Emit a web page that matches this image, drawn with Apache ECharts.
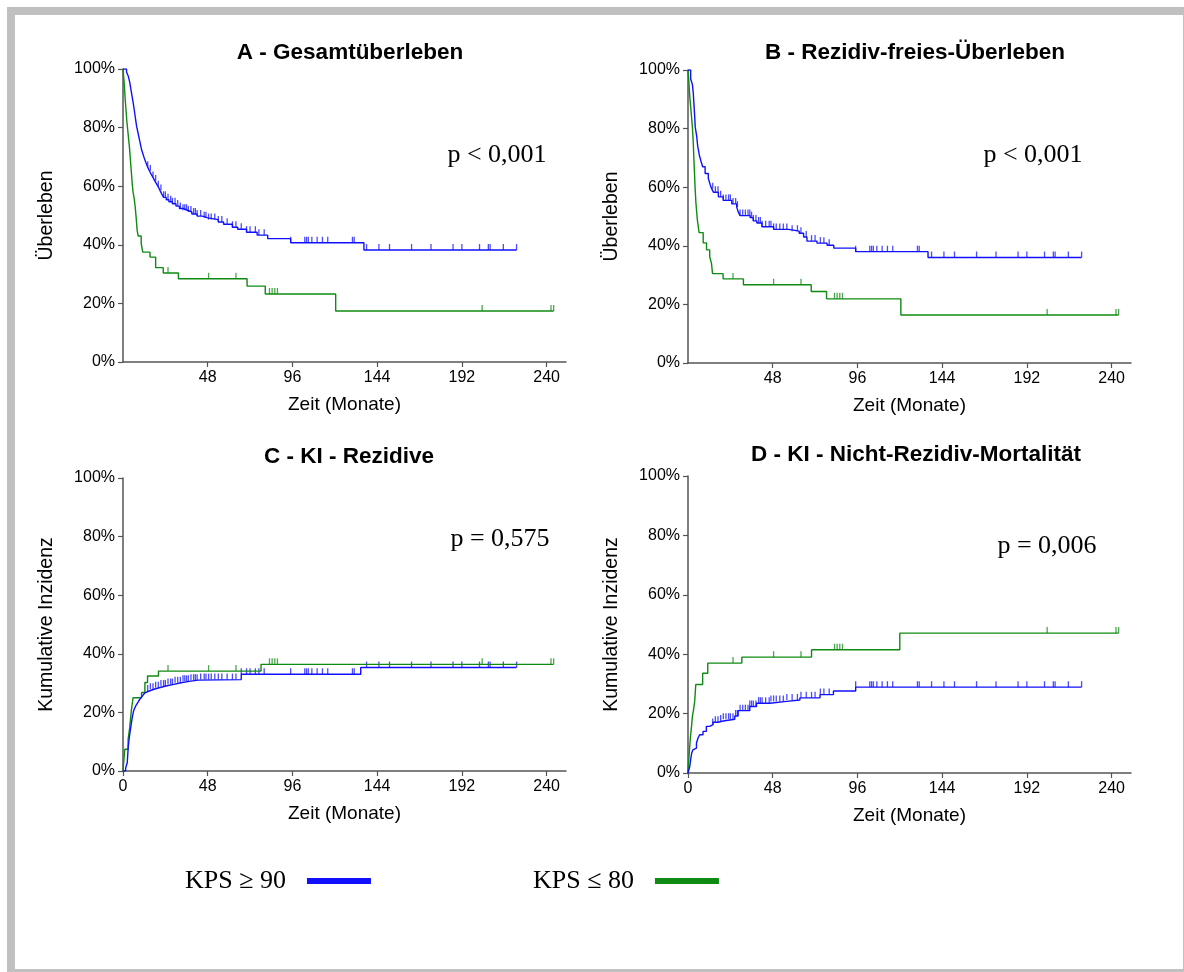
<!DOCTYPE html>
<html><head><meta charset="utf-8">
<script src="https://cdn.jsdelivr.net/npm/echarts@6/dist/echarts.min.js"></script>
<style>html,body{margin:0;padding:0;background:#fff}#c{width:1184px;height:972px}</style>
</head><body><div id="c"></div>
<script>
// ---- data ----
const seriesNames = ['KPS \u2265 90', 'KPS \u2264 80'];
const panelTitles = ['A - Gesamtüberleben', 'B - Rezidiv-freies-Überleben', 'C - KI - Rezidive', 'D - KI - Nicht-Rezidiv-Mortalität'];
const yAxisNames = ['Überleben', 'Überleben', 'Kumulative Inzidenz', 'Kumulative Inzidenz'];
const xAxisName = 'Zeit (Monate)';
const pTexts = ['p < 0,001', 'p < 0,001', 'p = 0,575', 'p = 0,006'];
const xTicksAB = [48, 96, 144, 192, 240];
const xTicksCD = [0, 48, 96, 144, 192, 240];
const yTicks = [0, 20, 40, 60, 80, 100];

// step curves: [month, percent] (value holds from that month on)
const osBlue = [[0,100],[2,99],[3,97.5],[3.8,95.5],[4.5,93],[5.2,90.5],[5.9,88],[6.5,85.5],[7.1,83],[7.7,80.5],[8.4,78.5],[9.1,76.5],[9.8,74.5],[10.5,72.5],[11.3,71],[12.1,69.5],[13,68],[14,66.5],[15,65.2],[16,64],[17,63],[18,61.8],[19,60.8],[20,59.8],[21,58.5],[22,57.3],[23,56.2],[24.5,55.4],[26,54.7],[28,54],[30,53.2],[32,52.4],[34,51.8],[36.5,51.2],[39,50.5],[42,49.8],[45,49.2],[48,48.6],[54,47.8],[57,47],[62,46],[65,45.3],[70,44.3],[76,43.3],[82,42.1],[95,40.7],[136.5,38.2],[223,38.2]];
const osGreen = [[0,100],[0.7,95],[1.2,90],[1.7,86],[2.2,82],[2.7,79],[3.2,76],[3.7,73],[4.2,69],[4.7,65],[5.2,61],[5.7,58],[6.3,56],[6.9,53],[7.5,49],[8,45],[8.6,43],[10.3,40.5],[11.2,37.5],[15.3,35.8],[18.5,32.2],[22.8,30.4],[31.4,28.4],[70.3,25.9],[80.6,23.2],[120.5,17.4],[244,17.4]];
const rfsBlue = [[0,100],[1.5,97],[2.5,95],[3,92],[3.4,88],[3.8,84],[4.1,80.5],[4.9,77.5],[5.5,74],[6.4,71],[7.2,69.2],[8.3,67],[9.7,64.7],[11.5,63],[12.5,61],[13.4,59.5],[14.4,58.3],[17.2,56.7],[20,55.5],[24.8,54.3],[27.6,53.2],[28.5,51.5],[29.5,50.3],[35.2,49.6],[37,48.5],[39,47.8],[41.9,46.5],[48.5,45.6],[57,45],[63,44.3],[65.5,43],[67.4,41.6],[73.1,40.9],[78.8,40.2],[82.6,39.2],[95,38],[136,36],[223,36]];
const rfsGreen = [[0,100],[0.5,96],[1,91],[1.5,87.5],[2,84],[2.5,80.5],[3,75],[3.3,70],[3.6,66],[4,60],[4.5,54.5],[5.3,48.8],[6.3,44.5],[8.6,41],[10.5,38.6],[12.3,36.3],[13.3,34],[13.9,30.5],[19.9,28.7],[31.4,26.7],[69.8,24.4],[78.5,21.9],[120.6,16.4],[244,16.4]];
const relBlue = [[0,0],[1.5,1],[2.4,2.8],[3,8.5],[3.4,10.5],[3.8,12.5],[4.3,14.5],[4.8,16.5],[5.3,18.5],[5.9,20.3],[6.5,21.3],[7.2,22.2],[8,23],[8.8,23.8],[9.7,24.6],[10.6,25.3],[11.5,26],[12.5,26.7],[13.6,27.3],[14.8,27.9],[17.6,28.4],[20.5,29],[24.3,29.5],[28.1,30.1],[32.8,30.6],[37.5,31],[42.6,31.2],[67,33],[134.7,35.3],[223,35.3]];
const relGreen = [[0,0],[1,7.4],[2.9,10.8],[3.8,14.8],[4.7,20.5],[5.7,25],[10.5,26.8],[12.4,30.2],[13.9,32.4],[20.1,34.1],[78.2,36.4],[244,36.4]];
const nrmBlue = [[0,0],[1,2.2],[1.5,4.5],[2.1,6.7],[2.8,7.8],[3.8,8.4],[4.8,10.1],[5.7,11.8],[6.6,12.9],[8.5,14],[10.4,15.7],[12.3,16.3],[14.2,17.1],[17.1,17.5],[19.9,18.1],[26.5,19.2],[28.4,21],[35,22.4],[38.8,23.5],[46.4,24.1],[55.8,24.6],[63.4,25.3],[74.8,26.4],[82.4,27.6],[95,28.9],[223,28.9]];
const nrmGreen = [[0,0],[0.7,6.7],[1.4,12.3],[2,15.7],[2.5,19.1],[3.2,21.5],[3.8,24.2],[4.4,29.8],[8.3,33.6],[11.2,37],[30.5,39],[70,41.5],[120,47.1],[244,47.1]];

// censoring times (months)
const blueCensor = [14,15.5,17,18.5,20,21.5,23,24,25.5,27,28,29.5,31,32.5,34,35,36,37,38.5,40,41,42,44,46,47,48.5,50,52,54,56,59,62,64,67,70,72,75,77,80,95,103,104,105,107,110,113,116,130,131,138,145,151,163.5,174.5,187,192,202,207,208,215.5,223];
const greenCensor = [25.5,48.5,64,83,84.5,86,87.5,203.5,242.5,244];

// ---- layout / style ----
const BLUE = '#1010ff', GREEN = '#0f8a12';
const grids = [
  {left:123, top:69, width:443, height:293},
  {left:688, top:70, width:443, height:293},
  {left:123, top:478, width:443, height:293},
  {left:688, top:476, width:443, height:297}
];
const titlePos = [[345,36],[910,36],[344,440],[911,438]];
const pPos = [[497,155],[1033,155],[500,539],[1047,546]];
const curves = [[osBlue, osGreen],[rfsBlue, rfsGreen],[relBlue, relGreen],[nrmBlue, nrmGreen]];

function stepValue(curve, t){
  let v = curve[0][1];
  for (const p of curve){ if (p[0] <= t) v = p[1]; else break; }
  return v;
}
function censorPoints(curve, times){
  const tEnd = curve[curve.length-1][0];
  return times.filter(t => t <= tEnd).map(t => [t, stepValue(curve, t)]);
}

const FONT = 'Liberation Sans';
const xAxes = [], yAxes = [], series = [], titles = [];
grids.forEach((g, i) => {
  const ticks = i < 2 ? xTicksAB : xTicksCD;
  xAxes.push({
    gridIndex:i, type:'value', min:0, max:251, interval:48,
    name:xAxisName, nameLocation:'middle', nameGap:33,
    nameTextStyle:{fontFamily:FONT, fontSize:19, color:'#000'},
    axisLine:{lineStyle:{color:'#555', width:1.5}},
    axisTick:{length:5, lineStyle:{color:'#555', width:1.2}, customValues:ticks},
    axisLabel:{fontFamily:FONT, fontSize:16, color:'#000', margin:8, customValues:ticks},
    splitLine:{show:false}
  });
  yAxes.push({
    gridIndex:i, type:'value', min:0, max:100, interval:20,
    name:yAxisNames[i], nameLocation:'middle', nameGap:66,
    nameTextStyle:{fontFamily:FONT, fontSize:19.5, color:'#000'},
    axisLine:{show:true, lineStyle:{color:'#555', width:1.5}},
    axisTick:{show:true, length:5, lineStyle:{color:'#555', width:1.2}},
    axisLabel:{fontFamily:FONT, fontSize:16, color:'#000', margin:8, formatter:'{value}%'},
    splitLine:{show:false}
  });
  titles.push({
    text:panelTitles[i], left:titlePos[i][0], top:titlePos[i][1], textAlign:'center',
    textStyle:{fontFamily:FONT, fontSize:22.5, fontWeight:'bold', color:'#000'}
  });
  const [cb, cg] = curves[i];
  [[cg, GREEN, seriesNames[1], greenCensor],[cb, BLUE, seriesNames[0], blueCensor]].forEach(([c, col, nm, cens]) => {
    series.push({
      type:'line', name:nm, xAxisIndex:i, yAxisIndex:i, data:c, step:'end',
      showSymbol:false, symbol:'none', color:col, animation:false,
      lineStyle:{color:col, width:1.4}, silent:true
    });
    series.push({
      type:'scatter', name:'c'+i+nm, xAxisIndex:i, yAxisIndex:i, data:censorPoints(c, cens),
      symbol:'rect', symbolSize:[1.3, 6], symbolOffset:[0,-3],
      itemStyle:{color:col, opacity:0.75}, animation:false, silent:true
    });
  });
});

const graphics = [
  {type:'rect', shape:{x:11, y:11, width:1176, height:962}, style:{fill:'none', stroke:'#c0c0c0', lineWidth:8}, silent:true}
];
pPos.forEach((p, i) => {
  graphics.push({type:'text', x:p[0], y:p[1], style:{text:pTexts[i], font:'26px "Liberation Serif"', fill:'#000', textAlign:'center', textVerticalAlign:'middle'}, silent:true});
});

const chart = echarts.init(document.getElementById('c'), null, {renderer:'canvas'});
chart.setOption({
  backgroundColor:'#fff',
  animation:false,
  title:titles,
  grid:grids,
  xAxis:xAxes,
  yAxis:yAxes,
  series:series,
  legend:{
    data:seriesNames, left:180, top:863, align:'right', icon:'rect',
    itemWidth:64, itemHeight:6, itemGap:162, selectedMode:false,
    textStyle:{fontFamily:'Liberation Serif', fontSize:26, color:'#000', padding:[0,16,0,0]}
  },
  graphic:graphics
});
</script>
</body></html>
